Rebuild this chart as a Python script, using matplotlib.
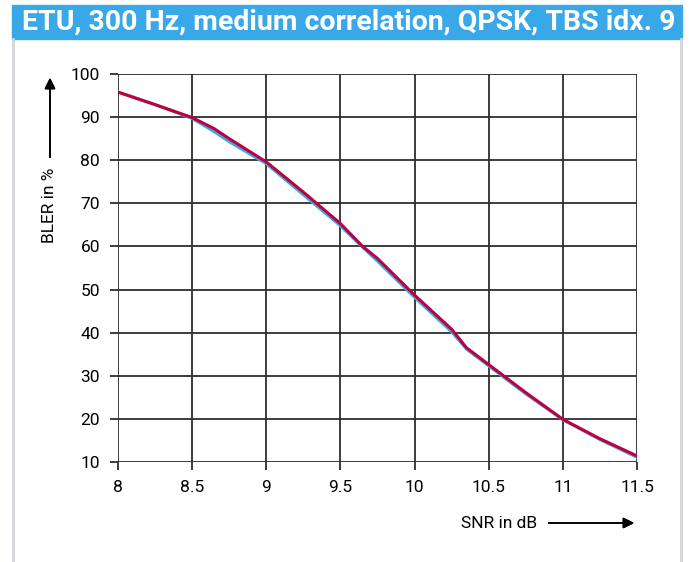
import matplotlib.pyplot as plt
from matplotlib.patches import Rectangle
from matplotlib.lines import Line2D

# BLER curves read at selected SNR points
snr_db = [8.0, 8.25, 8.5, 8.65, 8.75, 9.0, 9.25, 9.5, 9.65, 9.75,
          10.0, 10.25, 10.35, 10.5, 10.75, 11.0, 11.25, 11.5]
bler_blue = [95.8, 92.9, 89.7, 86.6, 84.3, 79.2, 72.0, 64.8, 59.8, 56.6,
             48.2, 40.2, 36.2, 32.3, 25.8, 19.8, 15.2, 11.1]
bler_red = [95.8, 92.9, 89.9, 87.3, 85.0, 79.6, 72.6, 65.3, 60.0, 57.2,
            48.7, 40.8, 36.5, 32.6, 26.1, 19.9, 15.4, 11.4]

x_ticks = [8, 8.5, 9, 9.5, 10, 10.5, 11, 11.5]
x_ticklabels = ["8", "8.5", "9", "9.5", "10", "10.5", "11", "11.5"]
y_ticks = [10, 20, 30, 40, 50, 60, 70, 80, 90, 100]

title = "ETU, 300 Hz, medium correlation, QPSK, TBS idx. 9"
plt.rcParams["font.family"] = ["Roboto", "DejaVu Sans"]

W, H = 689, 562
fig = plt.figure(figsize=(W / 100, H / 100), dpi=100)

def fx(px):
    return px / W

def fy(py):
    return 1 - py / H

# header banner and side rules
fig.patches.append(Rectangle((fx(12), fy(39)), fx(682) - fx(12), fy(5) - fy(39),
                             transform=fig.transFigure, color="#38a8e8", zorder=0))
fig.text(fx(349), fy(22), title, color="white", fontsize=20.5, fontweight="bold",
         ha="center", va="center")
for px in (12.5, 681):
    fig.lines.append(Line2D([fx(px), fx(px)], [fy(39), 0], transform=fig.transFigure,
                            color="#d4d4dc", lw=2))

ax = fig.add_axes([fx(118), fy(462), fx(637) - fx(118), fy(74) - fy(462)])
ax.plot(snr_db, bler_blue, color="#3aa8e8", lw=2.2, zorder=3)
ax.plot(snr_db, bler_red, color="#c0003c", lw=2.2, zorder=4)

ax.set_xlim(8, 11.5)
ax.set_ylim(10, 100)
ax.set_xticks(x_ticks)
ax.set_xticklabels(x_ticklabels)
ax.set_yticks(y_ticks)
for s in ax.spines.values():
    s.set_visible(False)
ax.grid(True, color="#2e2e2e", lw=1.3)
ax.tick_params(length=6, width=1.3, color="#2e2e2e", labelsize=12.5, pad=7)

# axis captions with arrows
fig.text(fx(50), fy(205), "BLER in %", rotation=90, fontsize=12.5,
         ha="center", va="center")
fig.text(fx(499), fy(523), "SNR in dB", fontsize=12.5, ha="center", va="center")
fig.add_artist(plt.annotate("", xy=(fx(50), fy(75)), xytext=(fx(50), fy(160)),
                            xycoords="figure fraction",
                            arrowprops=dict(arrowstyle="-|>", color="black", lw=1.2,
                                            mutation_scale=16)))
fig.add_artist(plt.annotate("", xy=(fx(637), fy(523)), xytext=(fx(546), fy(523)),
                            xycoords="figure fraction",
                            arrowprops=dict(arrowstyle="-|>", color="black", lw=1.2,
                                            mutation_scale=16)))

fig.savefig("out.png", dpi=100)
